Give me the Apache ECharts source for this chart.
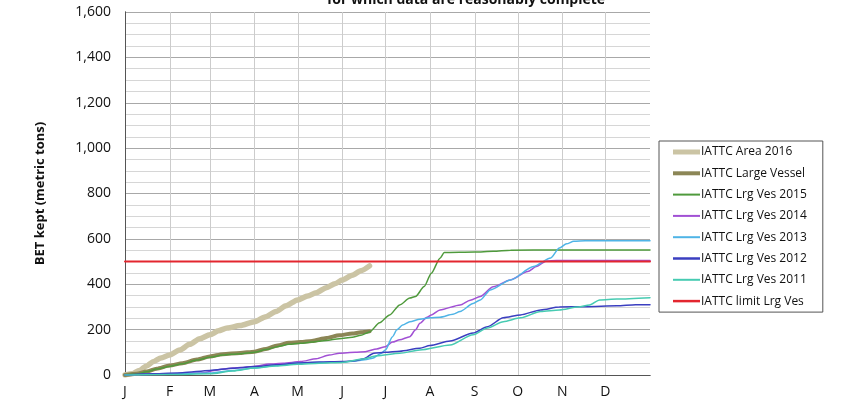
<!DOCTYPE html>
<html><head><meta charset="utf-8">
<script src="https://cdn.jsdelivr.net/npm/echarts@6/dist/echarts.min.js"></script>
<style>html,body{margin:0;padding:0;background:#fff}#c{width:848px;height:400px}</style>
</head><body><div id="c"></div>
<script>
const monthStarts = [0,31,59,90,120,151,181,212,243,273,304,334];
const monthLabels = ['J','F','M','A','M','J','J','A','S','O','N','D'];

const area2016 = [[0,0],[5,5],[10,20],[15,40],[20,60],[25,75],[31,88],[38,110],[45,135],[52,160],[59,177],[65,195],[71,207],[80,218],[90,235],[98,257],[105,280],[112,305],[120,331],[127,348],[133,363],[140,385],[146,402],[151,419],[158,440],[164,460],[170,481]];
const largeVessel = [[0,0],[8,5],[15,15],[22,28],[31,42],[40,52],[50,68],[59,82],[68,92],[80,97],[90,103],[98,115],[106,130],[114,142],[122,145],[130,150],[140,163],[149,175],[158,183],[164,188],[170,193]];
const lrg2015 = [[0,0],[8,4],[15,14],[22,26],[31,38],[40,50],[50,66],[59,78],[68,88],[80,94],[90,100],[98,112],[106,125],[114,135],[122,140],[130,145],[140,152],[149,160],[158,166],[164,175],[170,190],[177,230],[184,265],[191,309],[198,339],[202,346],[208,390],[213,449],[219,515],[222,540],[243,542],[256,545],[268,550],[300,551],[365,551]];
const lrg2014 = [[0,0],[20,2],[40,5],[55,10],[62,20],[70,28],[80,33],[90,38],[100,48],[110,52],[122,59],[133,72],[142,88],[149,96],[160,100],[167,103],[175,115],[181,125],[186,145],[191,155],[198,169],[202,199],[205,228],[210,255],[213,265],[219,287],[233,309],[240,330],[247,346],[256,389],[268,419],[280,456],[286,478],[293,503],[300,505],[365,505]];
const lrg2013 = [[0,0],[20,3],[40,6],[59,9],[75,20],[90,31],[105,42],[120,53],[135,55],[151,57],[160,62],[168,68],[172,74],[178,95],[181,110],[186,169],[189,199],[193,220],[198,235],[205,246],[212,252],[219,255],[228,268],[233,280],[242,315],[247,331],[254,375],[268,419],[284,478],[296,516],[302,560],[307,578],[312,589],[320,592],[365,592]];
const lrg2012 = [[0,0],[20,5],[40,10],[59,20],[75,30],[90,37],[105,45],[120,53],[135,57],[151,59],[160,63],[166,72],[173,96],[181,100],[191,105],[205,118],[212,130],[226,150],[242,185],[252,213],[263,252],[275,265],[289,287],[302,300],[320,301],[342,305],[355,310],[365,310]];
const lrg2011 = [[0,0],[30,2],[59,5],[75,18],[90,31],[105,40],[120,47],[135,52],[151,55],[165,70],[175,85],[191,96],[205,110],[226,132],[242,177],[252,207],[263,235],[275,252],[289,280],[302,287],[315,300],[323,309],[330,331],[342,335],[365,341]];
const limitLrg = [[0,500],[365,500]];

const names = ['IATTC Area 2016','IATTC Large Vessel','IATTC Lrg Ves 2015','IATTC Lrg Ves 2014','IATTC Lrg Ves 2013','IATTC Lrg Ves 2012','IATTC Lrg Ves 2011','IATTC limit Lrg Ves'];
const datas = [area2016, largeVessel, lrg2015, lrg2014, lrg2013, lrg2012, lrg2011, limitLrg];
const colors = ['#cbc4a4','#8c8656','#4f9a3c','#a150d4','#4fb4e6','#3b3fc0','#47cbb2','#e3262f'];
const widths = [5.5,4,1.5,1.5,1.5,1.5,1.5,2];
const legendThick = [5,4,2,2,2,2.5,2,2.5];

const FONT = 'Open Sans';
const chart = echarts.init(document.getElementById('c'));

const series = [{
  type:'custom', silent:true, z:1, clip:false,
  data: monthStarts.slice(1).map(m=>[m]),
  encode:{x:0},
  renderItem:(params, api)=>{
    const v = api.value(0);
    const b = api.coord([v, 0]);
    const t = api.coord([v, 1600]);
    return {type:'rect', shape:{x:Math.round(b[0]), y:t[1], width:1, height:b[1]-t[1]},
      style:{fill:'#cccccc'}};
  }
}];
names.forEach((n,i)=>{
  series.push({name:n, type:'line', data:datas[i], symbol:'none', showSymbol:false,
    smooth:0.25, smoothMonotone:'x', z:3,
    lineStyle:{color:colors[i], width:widths[i], cap:'round'}, itemStyle:{color:colors[i]}});
});

const frameX = {type:'value', min:0, max:365, position:'top', axisLine:{show:true, lineStyle:{color:'#555'}},
  axisTick:{show:false}, axisLabel:{show:false}, splitLine:{show:false}};
const frameY = {type:'value', min:0, max:1600, interval:200, position:'right', axisLine:{show:true, lineStyle:{color:'#555'}},
  axisTick:{show:false}, axisLabel:{show:false}, splitLine:{show:false}};

chart.setOption({
  animation:false,
  backgroundColor:'#fff',
  graphic:[{type:'text', x:466, y:7, style:{text:'for which data are reasonably complete', font:'bold 14px "'+FONT+'"', fill:'#111', textAlign:'center', textVerticalAlign:'bottom'}}],
  grid:{left:125, right:198, top:12, bottom:25, show:false},
  legend:{orient:'vertical', left:659, top:141, padding:[5,16,5,14],
    data: names.map((n,i)=>({name:n, icon:'path://M0,0h27v'+legendThick[i]+'h-27z', itemStyle:{color:colors[i]}})),
    borderColor:'#555', borderWidth:1, backgroundColor:'#fff',
    itemWidth:27, itemHeight:14, itemGap:9.3,
    textStyle:{fontFamily:FONT, fontSize:12, color:'#111', padding:[0,0,0,-4]}},
  xAxis:[{type:'value', min:0, max:365,
    axisLine:{show:true, lineStyle:{color:'#555'}},
    axisTick:{show:false},
    splitLine:{show:false},
    axisLabel:{customValues:monthStarts, fontFamily:FONT, fontSize:14, color:'#111', margin:10,
      formatter:(v)=>{const i=monthStarts.indexOf(v); return i>=0?monthLabels[i]:'';}}}, frameX],
  yAxis:[{type:'value', min:0, max:1600, interval:200,
    name:'BET kept (metric tons)', nameLocation:'middle', nameGap:78, nameRotate:90,
    nameTextStyle:{fontFamily:FONT, fontSize:13, fontWeight:'bold', color:'#111'},
    axisLine:{show:true, lineStyle:{color:'#555'}},
    axisTick:{show:false},
    axisLabel:{fontFamily:FONT, fontSize:14, color:'#111', margin:14,
      formatter:(v)=>v.toLocaleString('en-US')},
    splitLine:{lineStyle:{color:'#a8a8a8', width:1}},
    minorTick:{show:false, splitNumber:4},
    minorSplitLine:{show:true, lineStyle:{color:'#d6d6d6', width:1}}}, frameY],
  series: series
});
</script></body></html>
